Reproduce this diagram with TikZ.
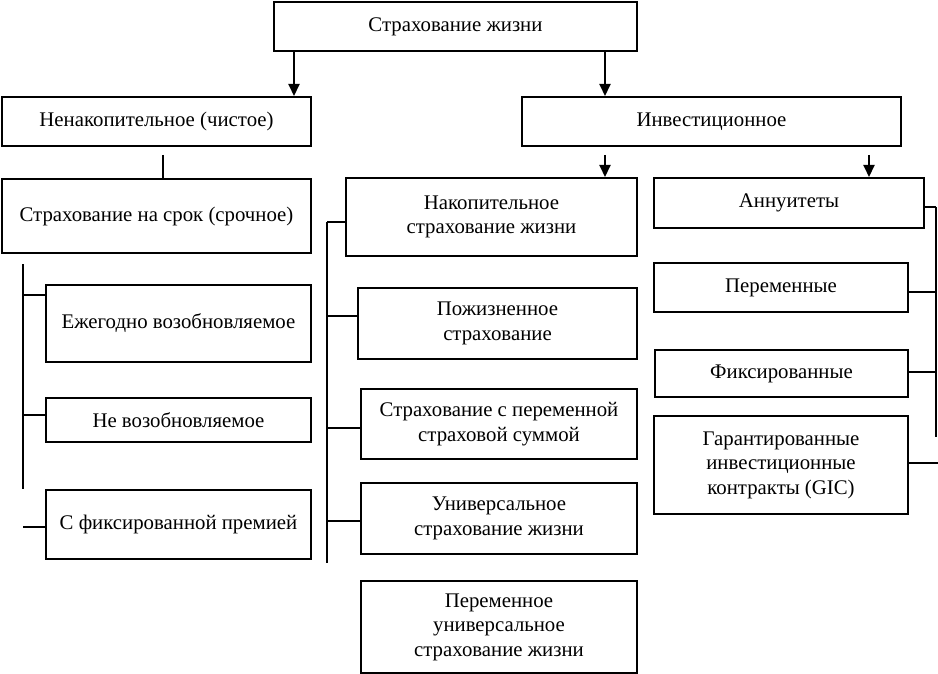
\documentclass[tikz,border=0pt]{standalone}
\usepackage{fontspec}
\setmainfont{Liberation Serif}
\usetikzlibrary{arrows.meta}
\begin{document}
\begin{tikzpicture}[x=1pt,y=-1pt,
  line width=2pt,
  box/.style={draw, line width=2pt, anchor=north west, align=center, inner sep=0pt,
    font=\fontsize{20.8}{24.5}\selectfont},
  arr/.style={-{Triangle[length=12pt,width=11pt]}, line width=2pt},
  link/.style={line width=2pt}]
\useasboundingbox (0,0) rectangle (938,674);
% boxes
\node[box, minimum width=363pt, minimum height=49pt] (top) at (273,1) {Страхование жизни};
\node[box, minimum width=309pt, minimum height=49pt] (nonacc) at (1,96) {Ненакопительное (чистое)};
\node[box, minimum width=379pt, minimum height=49pt] (invest) at (521,96) {Инвестиционное};
\node[box, minimum width=309pt, minimum height=74pt] (term) at (1,178) {Страхование на срок (срочное)};
\node[box, minimum width=265pt, minimum height=77pt] (annual) at (45,284) {Ежегодно возобновляемое};
\node[box, minimum width=265pt, minimum height=44pt] (nonren) at (45,397) {Не возобновляемое};
\node[box, minimum width=265pt, minimum height=69pt] (fixprem) at (45,489) {С фиксированной премией};
\node[box, minimum width=291pt, minimum height=78pt] (accum) at (345,177) {Накопительное\\страхование жизни};
\node[box, minimum width=279pt, minimum height=71pt] (whole) at (357,287) {Пожизненное\\страхование};
\node[box, minimum width=276pt, minimum height=70pt] (varsum) at (360,388) {Страхование с переменной\\страховой суммой};
\node[box, minimum width=276pt, minimum height=71pt] (univ) at (360,482) {Универсальное\\страхование жизни};
\node[box, minimum width=276pt, minimum height=92pt] (varuniv) at (360,580) {Переменное\\универсальное\\страхование жизни};
\node[box, minimum width=270pt, minimum height=50pt] (annuit) at (653,177) {Аннуитеты};
\node[box, minimum width=254pt, minimum height=49pt] (var) at (653,262) {Переменные};
\node[box, minimum width=253pt, minimum height=47pt] (fix) at (654,349) {Фиксированные};
\node[box, minimum width=254pt, minimum height=98pt] (gic) at (653,415) {Гарантированные\\инвестиционные\\контракты (GIC)};
% coordinates
\coordinate (a1) at (294,0);
\coordinate (a2) at (605,0);
\coordinate (a3s) at (605,155);
\coordinate (a4s) at (869,155);
\coordinate (stub) at (163,155);
\coordinate (lbT) at (23,264);
\coordinate (lbB) at (23,489);
\coordinate (lb3) at (23,527);
\coordinate (mbT) at (327,222);
\coordinate (mbB) at (327,563);
\coordinate (mb2) at (327,316);
\coordinate (mb3) at (327,428);
\coordinate (mb4) at (327,521);
\coordinate (rbT) at (936,207);
\coordinate (rbB) at (936,437);
\coordinate (rb2) at (936,292);
\coordinate (rb3) at (936,372);
\coordinate (rb4) at (938,463);
% arrows
\draw[arr] (top.south -| a1) -- (nonacc.north -| a1);
\draw[arr] (top.south -| a2) -- (invest.north -| a2);
\draw[arr] (a3s) -- (accum.north -| a3s);
\draw[arr] (a4s) -- (annuit.north -| a4s);
% left
\draw[link] (stub) -- (term.north -| stub);
\draw[link] (lbT) -- (lbB);
\draw[link] (lbT |- 0,295) -- (annual.west |- 0,295);
\draw[link] (lbT |- 0,415) -- (nonren.west |- 0,415);
\draw[link] (lb3) -- (fixprem.west |- lb3);
% middle
\draw[link] (mbT) -- (mbB);
\draw[link] (mbT) -- (accum.west |- mbT);
\draw[link] (mb2) -- (whole.west |- mb2);
\draw[link] (mb3) -- (varsum.west |- mb3);
\draw[link] (mb4) -- (univ.west |- mb4);
% right
\draw[link] (rbT) -- (rbB);
\draw[link] (annuit.east |- rbT) -- (rbT);
\draw[link] (var.east |- rb2) -- (rb2);
\draw[link] (fix.east |- rb3) -- (rb3);
\draw[link] (gic.east |- rb4) -- (rb4);
\end{tikzpicture}
\end{document}
